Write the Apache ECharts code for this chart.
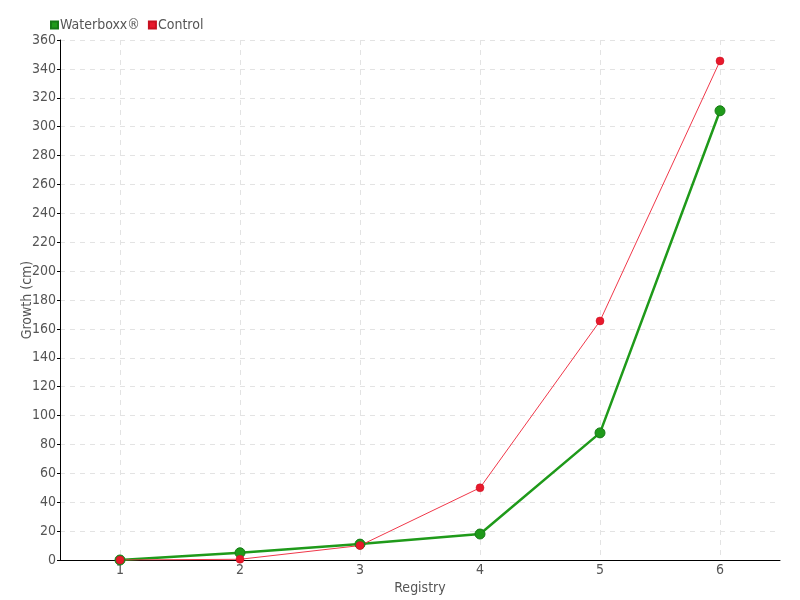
<!DOCTYPE html>
<html><head><meta charset="utf-8">
<script src="https://cdn.jsdelivr.net/npm/echarts@6/dist/echarts.min.js"></script>
<style>html,body{margin:0;padding:0;background:#fff}#c{width:800px;height:600px}</style>
</head><body><div id="c"></div>
<script>
const categories = ['1','2','3','4','5','6'];
const waterboxx = [0, 5, 11, 18, 88, 311];
const control = [0, 0.5, 10, 50, 165.5, 345.5];
const seriesNames = ['Waterboxx®', 'Control'];

const FONT = "'Liberation Sans Narrow','DejaVu Sans Condensed',sans-serif";
const chart = echarts.init(document.getElementById('c'), null, {renderer:'canvas'});
chart.setOption({
  animation:false,
  textStyle:{fontFamily:FONT},
  legend:{left:45, top:13, itemWidth:7, itemHeight:7, itemGap:8, icon:'rect',
    textStyle:{fontFamily:FONT, fontSize:14, color:'#555', padding:[0,0,0,-3]},
    data:seriesNames},
  grid:{left:60, right:20, top:40, bottom:40},
  xAxis:{type:'category', data:categories, boundaryGap:true,
    name:'Registry', nameLocation:'middle', nameGap:21, nameMoveOverlap:false,
    nameTextStyle:{fontFamily:FONT, fontSize:14, color:'#555'},
    axisLine:{lineStyle:{color:'#000', width:1}},
    axisTick:{alignWithLabel:true, length:4, lineStyle:{color:'#000'}},
    axisLabel:{fontFamily:FONT, fontSize:14, color:'#555', margin:3},
    splitLine:{show:true, alignWithLabel:true, lineStyle:{type:[5,5], color:'#e3e3e3'}}
  },
  yAxis:{type:'value', min:0, max:360, interval:20,
    name:'Growth (cm)', nameLocation:'middle', nameGap:26, nameMoveOverlap:false,
    nameTextStyle:{fontFamily:FONT, fontSize:14, color:'#555'},
    axisLine:{show:true, lineStyle:{color:'#000', width:1}},
    axisTick:{show:true, length:3, lineStyle:{color:'#000'}},
    axisLabel:{fontFamily:FONT, fontSize:14, color:'#555', margin:4},
    splitLine:{show:true, lineStyle:{type:[5,5], color:'#e3e3e3'}}
  },
  series:[
    {name:seriesNames[0], type:'line', data:waterboxx, symbol:'circle', symbolSize:10,
      lineStyle:{color:'#1f9a1a', width:2.5},
      itemStyle:{color:'#1f9a1a', borderColor:'#157a15', borderWidth:1}},
    {name:seriesNames[1], type:'line', data:control, symbol:'circle', symbolSize:8,
      lineStyle:{color:'#f0384a', width:1},
      itemStyle:{color:'#e8192c', borderColor:'#c81020', borderWidth:0.5}}
  ]
});
</script></body></html>
